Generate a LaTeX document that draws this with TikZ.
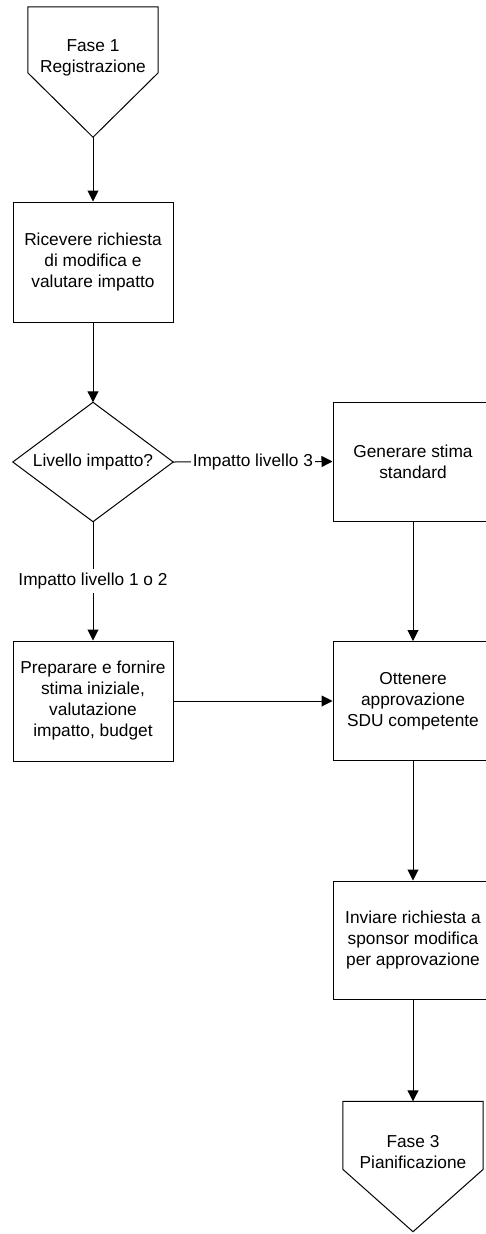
\documentclass[tikz,border=0pt]{standalone}
\usepackage{fontspec}
\setmainfont{Liberation Sans}
\usetikzlibrary{arrows.meta,calc}
\begin{document}
\begin{tikzpicture}[x=1pt,y=-1pt,
  every node/.style={font=\fontsize{17.3}{21}\selectfont, align=center, inner sep=0pt},
  line/.style={draw=black, line width=1pt},
  proc/.style={line, fill=white, minimum width=160pt, minimum height=120pt},
  frame/.style={minimum width=160pt, minimum height=119pt},
  pent/.style={minimum width=#1, minimum height=130pt},
  arr/.style={line, -{Triangle[length=11pt,width=11pt]}},
  lbl/.style={fill=white}
]
\useasboundingbox (0,0) rectangle (485,1234);

% start phase marker
\node[pent=130pt] (f1) at (93,72) {};
\draw[line] (f1.north west) -- (f1.north east) -- ($(f1.north east)+(0,66)$)
  -- (f1.south) -- ($(f1.north west)+(0,66)$) -- cycle;
\node (f1t) at (93,58) {Fase 1\\Registrazione};

% left column
\node[proc] (ric) at (93,262) {Ricevere richiesta\\di modifica e\\valutare impatto};

\node[frame] (dia) at (93,462) {Livello impatto?};
\draw[line] (dia.north) -- (dia.east) -- (dia.south) -- (dia.west) -- cycle;

\node[proc] (prep) at (93,701) {Preparare e fornire\\stima iniziale,\\valutazione\\impatto, budget};

% right column
\node[proc, minimum height=119pt] (gen) at (413,461.5) {Generare stima\\standard};
\node[proc, minimum height=119pt] (ott) at (413,701) {Ottenere\\approvazione\\SDU competente};
\node[proc, minimum height=118pt] (inv) at (413,940) {Inviare richiesta a\\sponsor modifica\\per approvazione};

% end phase marker
\node[pent=140pt] (f3) at (413,1166.5) {};
\draw[line] (f3.north west) -- (f3.north east) -- ($(f3.north east)+(0,68)$)
  -- (f3.south) -- ($(f3.north west)+(0,68)$) -- cycle;
\node (f3t) at (413,1152) {Fase 3\\Pianificazione};

% connectors
\draw[arr] (f1.south) -- (ric.north);
\draw[arr] (ric.south) -- (dia.north);
\draw[arr] (dia.east) -- node[lbl, inner xsep=2pt] {Impatto livello 3} (gen.west);
\draw[arr] (dia.south) -- node[lbl, inner ysep=4pt] {Impatto livello 1 o 2} (prep.north);
\draw[arr] (gen.south) -- (ott.north);
\draw[arr] (prep.east) -- (ott.west);
\draw[arr] (ott.south) -- (inv.north);
\draw[arr] (inv.south) -- (f3.north);
\end{tikzpicture}
\end{document}
